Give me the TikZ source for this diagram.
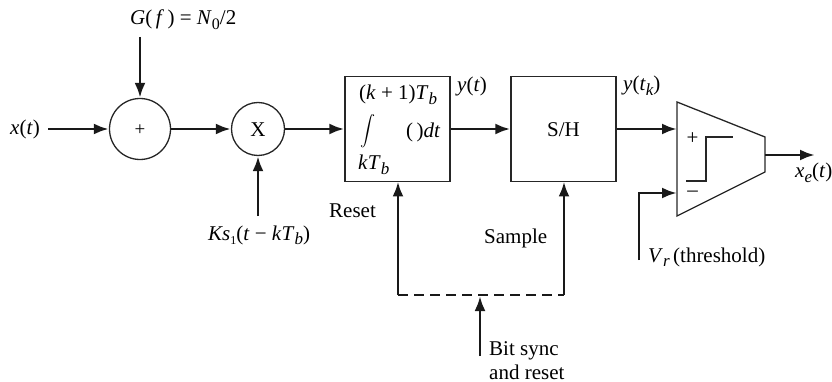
\documentclass[tikz,border=0pt]{standalone}
\usepackage{fontspec}
\setmainfont{Liberation Serif}
\usetikzlibrary{arrows.meta}
\newcommand{\vi}[1]{\textit{#1}}
\newcommand{\lowsub}[1]{\raisebox{-4.5pt}{\fontsize{17}{17}\selectfont\itshape #1}}
\newcommand{\lownum}[1]{\raisebox{-4.5pt}{\fontsize{16}{16}\selectfont #1}}
\tikzset{
  x=1pt,y=-1pt,
  every node/.style={font=\fontsize{21}{23}\selectfont},
  sumcirc/.style={draw=black!85,line width=1.3pt,circle,inner sep=0pt,minimum size=#1},
  blockbox/.style={draw=black!85,line width=1.3pt,rectangle,inner sep=0pt,minimum width=105pt,minimum height=105pt},
  lab/.style={anchor=base west,inner sep=0pt,text=black},
  sig/.style={draw=black!90,line width=2.9pt,-{Latex[length=15pt,width=11pt]}},
  sigplain/.style={draw=black!90,line width=2.9pt},
  thin line/.style={draw=black!85,line width=1.3pt}
}
\begin{document}
\begin{tikzpicture}
\useasboundingbox (0,0) rectangle (832,382);
% blocks
\node[sumcirc=61pt] (sum) at (140,129) {};
\node[lab,anchor=center,font=\fontsize{19}{19}\selectfont] (plus) at (140,130) {+};
\node[sumcirc=53pt] (mul) at (258,129) {};
\node[lab,anchor=center] (mullab) at (258,130) {X};
\node[blockbox] (int) at (397.5,129) {};
\node[blockbox] (sh) at (563.5,129) {};
\node[lab,anchor=center] (shlab) at (563.5,130) {S/H};
% comparator
\coordinate (ctl) at (677,102);
\coordinate (cbl) at (677,216);
\coordinate (ctr) at (765,137);
\coordinate (cbr) at (765,172);
\draw[thin line,line join=miter] (ctl) -- (ctr) -- (cbr) -- (cbl) -- cycle;
\coordinate (cin1) at (677,129);
\coordinate (cin2) at (677,193);
\coordinate (cout) at (765,155);
\coordinate (s1) at (686,181);
\coordinate (s2) at (706,181);
\coordinate (s3) at (706,137);
\coordinate (s4) at (733,137);
\draw[thin line] (s1) -- (s2) -- (s3) -- (s4);
\node[lab,anchor=center] (cplus) at (692.5,139) {+};
\node[lab,anchor=center] (cminus) at (692.5,194) {–};
% free ends
\coordinate (xin) at (48,129);
\coordinate (gin) at (140,37);
\coordinate (ksin) at (258,216);
\coordinate (xout) at (815,155);
\coordinate (vr) at (639,260);
\coordinate (vrc) at (639,193);
\coordinate (rb) at (398,295);
\coordinate (sb) at (564,295);
\coordinate (rt) at (398,181.5);
\coordinate (st) at (564,181.5);
\coordinate (bmid) at (480,296);
\coordinate (bin) at (480,356);
% connectors
\draw[sig] (xin) -- (sum.west);
\draw[sig] (gin) -- (sum.north);
\draw[sig] (sum.east) -- (mul.west);
\draw[sig] (ksin) -- (mul.south);
\draw[sig] (mul.east) -- (int.west);
\draw[sig] (int.east) -- (sh.west);
\draw[sig] (sh.east) -- (cin1);
\draw[sig] (vr) -- (vrc) -- (cin2);
\draw[sig] (cout) -- (xout);
\draw[sig] (rb) -- (rt);
\draw[sig] (sb) -- (st);
\draw[sigplain,dash pattern=on 9.5pt off 6.5pt] (rb) -- (sb);
\draw[sig] (bin) -- (bmid);
% labels
\node[lab] (lx) at (10,135) {\vi{x}(\vi{t})};
\node[lab] (lg) at (130,25) {\vi{G}(\,\vi{f}\,) = \vi{N}\lownum{0}/2};
\node[lab] (lk) at (208,240) {\vi{Ks}\lownum{\fontsize{12}{12}\selectfont 1}(\vi{t} − \vi{k}\vi{T}\lowsub{b})};
\node[lab] (lupper) at (359,100) {(\vi{k} + 1)\vi{T}\lowsub{b}};
\node[lab,anchor=center] (lint) at (368,139) {\smash{\scalebox{1.5}{$\displaystyle\int$}}};
\node[lab] (ldt) at (406,138) {(\,)\vi{dt}};
\node[lab] (llower) at (358,170) {\vi{k}\vi{T}\lowsub{b}};
\node[lab] (ly) at (457,92) {\vi{y}(\vi{t})};
\node[lab] (lyk) at (623,91) {\vi{y}(\vi{t}\lowsub{k})};
\node[lab] (lxe) at (795,178) {\vi{x}\lowsub{e}(\vi{t})};
\node[lab] (lv) at (648,262) {\vi{V}\lowsub{r}\,(threshold)};
\node[lab] (lreset) at (329,217) {Reset};
\node[lab] (lsample) at (484,243) {Sample};
\node[lab] (lbit) at (489,355) {Bit sync};
\node[lab] (land) at (489,379) {and reset};
\end{tikzpicture}
\end{document}
